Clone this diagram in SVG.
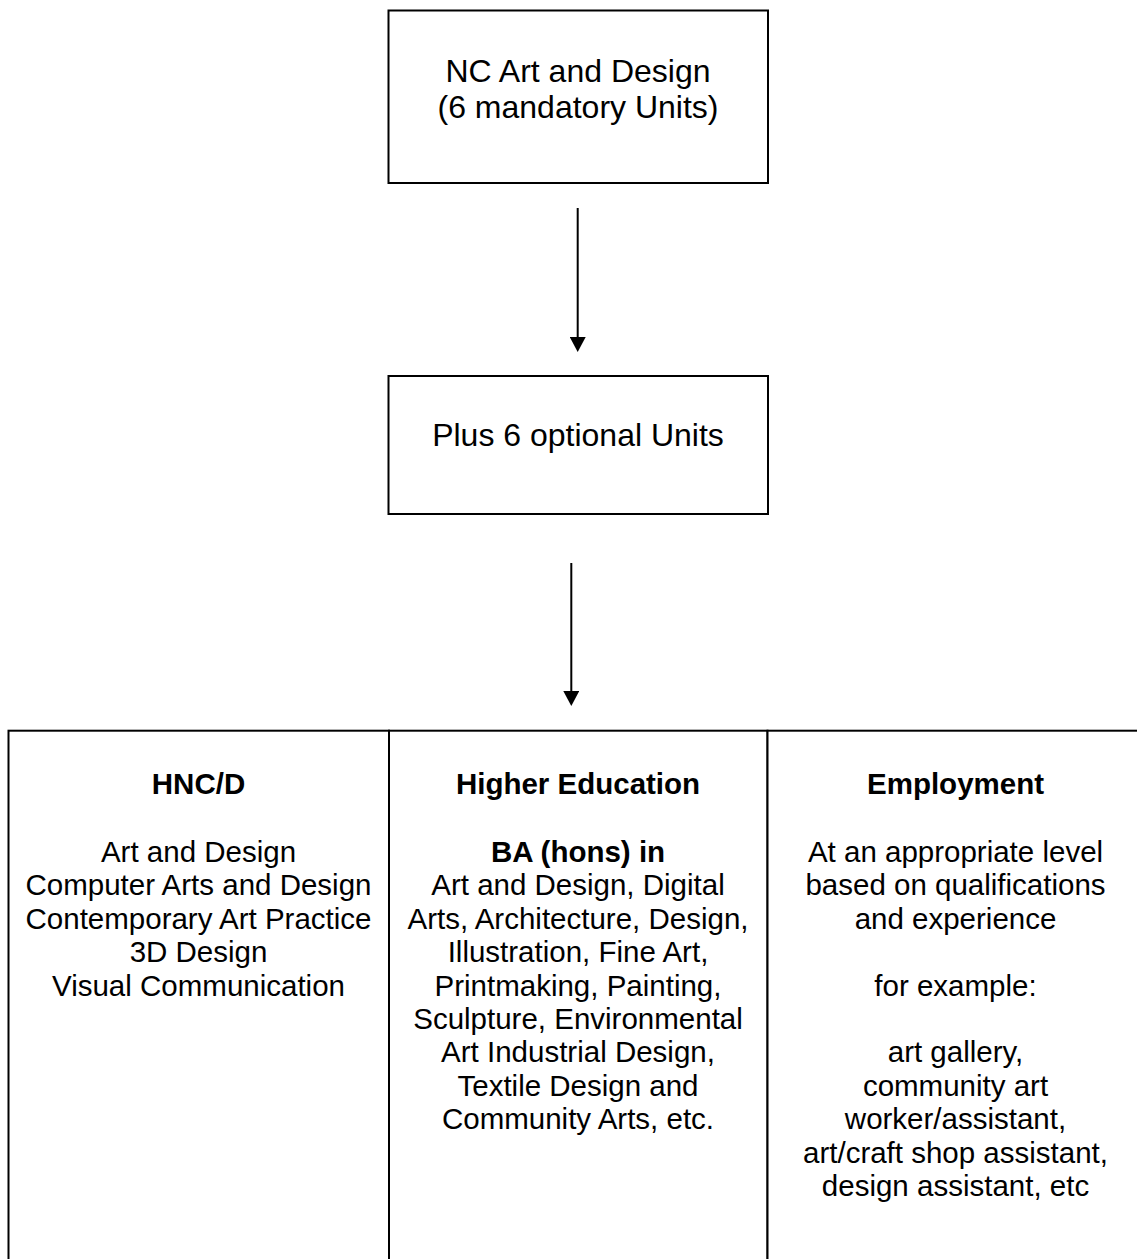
<svg xmlns="http://www.w3.org/2000/svg" width="1137" height="1259" viewBox="0 0 1137 1259">
<style>
.box{fill:#fff;stroke:#000;stroke-width:2}
.t{font-family:"Liberation Sans",Arial,sans-serif;fill:#000;text-anchor:middle}
.big{font-size:32px}
.sm{font-size:29.5px}
.b{font-weight:bold}
.conn{stroke:#000;stroke-width:2;fill:none}
</style>
<defs>
<marker id="ah" viewBox="0 0 16 16" refX="0" refY="8" markerWidth="16" markerHeight="16" markerUnits="userSpaceOnUse" orient="auto">
<path d="M0,0 L15,8 L0,16 z" fill="#000"/>
</marker>
</defs>
<rect width="1137" height="1259" fill="#fff"/>
<g id="node-nc">
<rect class="box" x="388.5" y="10.5" width="379.5" height="172.5"/>
<text class="t big" x="578" y="82">NC Art and Design</text>
<text class="t big" x="578" y="118">(6 mandatory Units)</text>
</g>
<g id="node-optional">
<rect class="box" x="388.5" y="376" width="379.5" height="138"/>
<text class="t big" x="578" y="446">Plus 6 optional Units</text>
</g>
<g id="node-hnc">
<rect class="box" x="8.5" y="730.7" width="380.5" height="600"/>
<text class="t sm b" x="198.5" y="794">HNC/D</text>
<text class="t sm" x="198.5" y="862">Art and Design</text>
<text class="t sm" x="198.5" y="895.4">Computer Arts and Design</text>
<text class="t sm" x="198.5" y="928.8">Contemporary Art Practice</text>
<text class="t sm" x="198.5" y="962.2">3D Design</text>
<text class="t sm" x="198.5" y="995.6">Visual Communication</text>
</g>
<g id="node-he">
<rect class="box" x="389" y="730.7" width="378.5" height="600"/>
<text class="t sm b" x="578" y="794">Higher Education</text>
<text class="t sm b" x="578" y="862">BA (hons) in</text>
<text class="t sm" x="578" y="895.4">Art and Design, Digital</text>
<text class="t sm" x="578" y="928.8">Arts, Architecture, Design,</text>
<text class="t sm" x="578" y="962.2">Illustration, Fine Art,</text>
<text class="t sm" x="578" y="995.6">Printmaking, Painting,</text>
<text class="t sm" x="578" y="1029">Sculpture, Environmental</text>
<text class="t sm" x="578" y="1062.4">Art Industrial Design,</text>
<text class="t sm" x="578" y="1095.8">Textile Design and</text>
<text class="t sm" x="578" y="1129.2">Community Arts, etc.</text>
</g>
<g id="node-emp">
<rect class="box" x="767.5" y="730.7" width="376" height="600"/>
<text class="t sm b" x="955.5" y="794">Employment</text>
<text class="t sm" x="955.5" y="862">At an appropriate level</text>
<text class="t sm" x="955.5" y="895.4">based on qualifications</text>
<text class="t sm" x="955.5" y="928.8">and experience</text>
<text class="t sm" x="955.5" y="995.6">for example:</text>
<text class="t sm" x="955.5" y="1062.4">art gallery,</text>
<text class="t sm" x="955.5" y="1095.8">community art</text>
<text class="t sm" x="955.5" y="1129.2">worker/assistant,</text>
<text class="t sm" x="955.5" y="1162.6">art/craft shop assistant,</text>
<text class="t sm" x="955.5" y="1196">design assistant, etc</text>
</g>
<g id="connectors">
<line class="conn" x1="577.7" y1="208" x2="577.7" y2="337" marker-end="url(#ah)"/>
<line class="conn" x1="571.3" y1="563" x2="571.3" y2="691" marker-end="url(#ah)"/>
</g>
</svg>
